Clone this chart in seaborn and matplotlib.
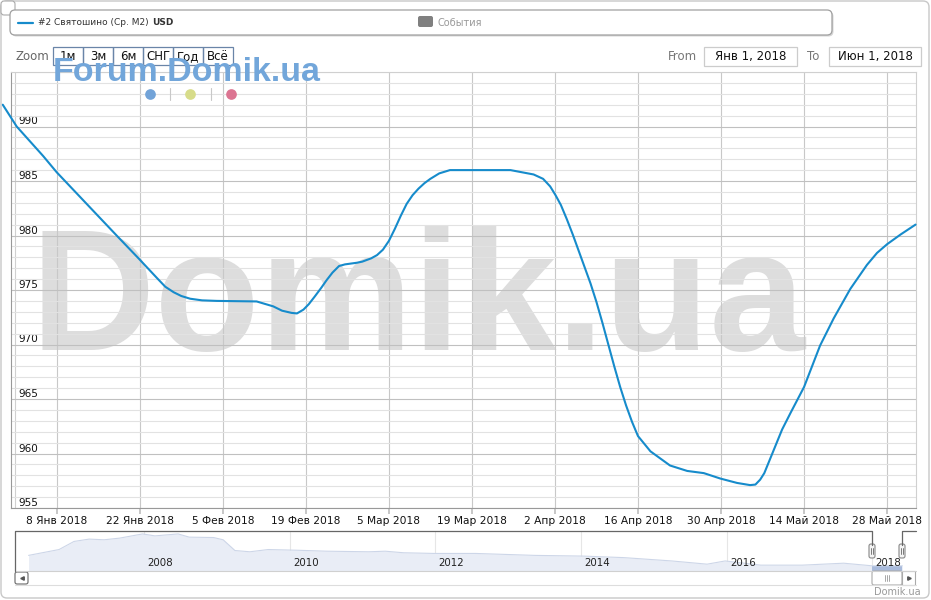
import pandas as pd
import seaborn as sns
import matplotlib.pyplot as plt
from matplotlib.patches import FancyBboxPatch, Rectangle

W, H = 931, 600

# main series: days after 1 Jan 2018 and price per m2, USD
days = [-2.1, 0.25, 4.7, 7.0, 17.1, 20.8, 23.9, 25.3, 26.7, 28.0, 29.5, 31.5,
        34.0, 40.7, 43.5, 45.0, 46.6, 47.5, 48.6, 49.5, 50.5, 51.6, 52.5, 53.5,
        54.6, 55.6, 57.6, 58.5, 60.0, 61.0, 62.0, 63.0, 64.0, 65.0, 66.0, 67.0,
        68.0, 69.0, 70.0, 71.5, 73.3, 83.5, 87.4, 89.0, 90.2, 91.1, 92.0, 93.0,
        94.0, 95.0, 96.0, 97.0, 98.0, 99.0, 100.0, 101.0, 102.0, 103.0, 104.0,
        105.0, 107.1, 110.4, 113.3, 116.1, 118.9, 121.7, 123.9, 124.8, 125.6,
        126.3, 127.2, 128.1, 129.3, 130.7, 133.0, 135.7, 138.0, 140.8, 143.6,
        145.3, 147.0, 149.3, 151.8]
price = [992.0, 990.0, 987.3, 985.8, 980.0, 977.9, 976.1, 975.3, 974.8, 974.45,
         974.2, 974.05, 974.0, 973.95, 973.5, 973.1, 972.9, 972.85, 973.2, 973.7,
         974.4, 975.2, 975.9, 976.6, 977.2, 977.35, 977.5, 977.6, 977.9, 978.2,
         978.7, 979.5, 980.6, 981.8, 982.9, 983.7, 984.3, 984.8, 985.2, 985.7,
         986.0, 986.0, 985.6, 985.2, 984.5, 983.7, 982.8, 981.5, 980.1, 978.6,
         977.1, 975.6, 973.9, 972.0, 970.0, 968.0, 966.1, 964.4, 962.9, 961.6,
         960.2, 958.9, 958.4, 958.2, 957.7, 957.3, 957.1, 957.15, 957.6, 958.2,
         959.4, 960.6, 962.2, 963.7, 966.1, 969.9, 972.4, 975.1, 977.3, 978.4,
         979.2, 980.1, 981.0]

tick_dates = ["2018-01-08", "2018-01-22", "2018-02-05", "2018-02-19", "2018-03-05",
              "2018-03-19", "2018-04-02", "2018-04-16", "2018-04-30", "2018-05-14",
              "2018-05-28"]
tick_labels = ["8 Янв 2018", "22 Янв 2018", "5 Фев 2018", "19 Фев 2018",
               "5 Мар 2018", "19 Мар 2018", "2 Апр 2018", "16 Апр 2018",
               "30 Апр 2018", "14 Май 2018", "28 Май 2018"]

# navigator series (whole history)
nav_dates = ["2006-06-01", "2006-11-01", "2007-01-15", "2007-04-01", "2007-06-15",
             "2007-09-01", "2007-12-25", "2008-02-25", "2008-06-20", "2008-08-15",
             "2008-12-15", "2009-02-01", "2009-04-01", "2009-06-15", "2009-09-15",
             "2010-02-05", "2010-07-05", "2011-02-01", "2011-04-25", "2011-07-25",
             "2011-12-25", "2012-07-20", "2013-05-15", "2014-01-10", "2014-08-05",
             "2015-04-01", "2015-09-25", "2015-12-25", "2016-06-20", "2017-01-15",
             "2017-08-10", "2018-01-01", "2018-06-01"]
nav_price = [1500, 1800, 2215, 2335, 2300, 2385, 2600, 2500, 2600, 2435, 2415,
             2300, 1750, 1685, 1800, 1765, 1715, 1685, 1715, 1635, 1600, 1600,
             1500, 1465, 1385, 1215, 1050, 1215, 1000, 1000, 1100, 965, 965]
nav_years = [2008, 2010, 2012, 2014, 2016, 2018]

zoom_buttons = ["1м", "3м", "6м", "СНГ", "Год", "Всё"]

LINE = "#168bcb"

sns.set_theme(style="white")
plt.rcParams["font.family"] = ["DejaVu Sans"]


def fx(x):
    return x / W


def fy(y):
    return 1 - y / H


fig = plt.figure(figsize=(W / 100, H / 100), dpi=100)

# main chart
df = pd.DataFrame({
    "date": pd.Timestamp("2018-01-01") + pd.to_timedelta(days, unit="D"),
    "price": price,
})
ax = fig.add_axes([fx(11), fy(508), (916 - 11) / W, (508 - 72) / H])
sns.lineplot(data=df, x="date", y="price", ax=ax, color=LINE, linewidth=1.5,
             clip_on=False, zorder=3)
ax.set_xlim(pd.Timestamp("2018-01-01") - pd.Timedelta(hours=17),
            pd.Timestamp("2018-06-01") + pd.Timedelta(hours=21))
ax.set_ylim(955, 995)
ax.set_axisbelow(True)
ax.set_yticks(range(955, 991, 5))
ax.set_yticks(range(955, 996), minor=True)
ax.set_xticks(pd.to_datetime(tick_dates))
ax.set_xticklabels(tick_labels)
ax.grid(which="minor", axis="y", color="#e2e2e2", lw=0.8)
ax.grid(which="major", axis="y", color="#c0c0c0", lw=0.8)
ax.grid(which="major", axis="x", color="#c8c8c8", lw=0.8)
ax.axvline(pd.Timestamp("2018-01-01"), color="#d0d0d0", lw=0.8, zorder=0.5)
ax.tick_params(axis="y", which="both", length=0, pad=-5, labelsize=7.5,
               labelcolor="#111")
for lbl in ax.get_yticklabels():
    lbl.set_ha("left")
    lbl.set_va("bottom")
ax.tick_params(axis="x", which="major", length=4, color="#c0c0c0", pad=2,
               labelsize=7.7, labelcolor="#111", bottom=True)
ax.set_xlabel("")
ax.set_ylabel("")
for side in ["left", "bottom"]:
    ax.spines[side].set_color("#999999")
    ax.spines[side].set_linewidth(0.8)
for side in ["top", "right"]:
    ax.spines[side].set_color("#d0d0d0")
    ax.spines[side].set_linewidth(0.8)

# big watermark behind the grid
ax.text(fx(30), fy(350), "Domik.ua", transform=fig.transFigure, fontsize=124,
        fontweight="bold", family="Liberation Sans", color="#dddddd",
        ha="left", va="baseline", zorder=0.1)

# navigator
nav_df = pd.DataFrame({"date": pd.to_datetime(nav_dates), "price": nav_price})
nav = fig.add_axes([fx(15), fy(571), (916 - 15) / W, 40 / H])
nav.fill_between(nav_df["date"], nav_df["price"], 700, color="#e9edf6", lw=0)
sns.lineplot(data=nav_df, x="date", y="price", ax=nav, color="#cdd6e8",
             linewidth=0.8)
sel = nav_df[nav_df["date"] >= "2018-01-01"]
nav.fill_between(sel["date"], sel["price"], 700, color="#a9bbdc", lw=0)
nav.set_xlim(pd.Timestamp("2006-03-25"), pd.Timestamp("2018-08-08"))
nav.set_ylim(700, 2750)
for yr in nav_years:
    ts = pd.Timestamp(f"{yr}-01-01")
    nav.axvline(ts, color="#e6e6e6", lw=0.8, zorder=0)
    nav.annotate(str(yr), xy=(ts, 0.21), xycoords=("data", "axes fraction"),
                 xytext=(2.5, 0), textcoords="offset points", va="center",
                 fontsize=7.4, color="#222")
nav.set(xticks=[], yticks=[], xlabel="", ylabel="")
for s in nav.spines.values():
    s.set_visible(False)

# overlay in pixel coordinates for the surrounding controls
ov = fig.add_axes([0, 0, 1, 1], zorder=5)
ov.set_xlim(0, W)
ov.set_ylim(H, 0)
ov.axis("off")
ov.patch.set_alpha(0)

ov.add_patch(FancyBboxPatch((1, 1), 928, 597, boxstyle="round,pad=0,rounding_size=6",
                            fc="none", ec="#c8c8c8", lw=1))
ov.add_patch(FancyBboxPatch((1, 1), 14, 14, boxstyle="round,pad=0,rounding_size=3",
                            fc="white", ec="#aaaaaa", lw=0.8))

# legend
ov.add_patch(FancyBboxPatch((11.5, 11.5), 822, 25, boxstyle="round,pad=0,rounding_size=5",
                            fc="#c4c4c4", ec="none", alpha=0.7))
ov.add_patch(FancyBboxPatch((10, 10), 822, 25, boxstyle="round,pad=0,rounding_size=5",
                            fc="white", ec="#a0a0a0", lw=0.9))
ov.plot([18, 33], [22.5, 22.5], color=LINE, lw=1.6)
ov.text(38, 22.5, "#2 Святошино (Ср. M2)", fontsize=6.5, color="#333", va="center")
ov.text(152, 22.5, "USD", fontsize=6.5, color="#333", va="center", fontweight="bold")
ov.add_patch(FancyBboxPatch((418, 16), 15, 11, boxstyle="round,pad=0,rounding_size=2",
                            fc="#808080", ec="none"))
ov.text(438, 22.5, "События", fontsize=7, color="#999", va="center")

# zoom buttons
ov.text(16, 57, "Zoom", fontsize=8.5, color="#666", va="center")
for i, b in enumerate(zoom_buttons):
    ov.add_patch(Rectangle((53 + 30 * i, 47), 30, 18, fc="none", ec="#6a85a8", lw=0.9))
    ov.text(68 + 30 * i, 56.5, b, fontsize=8.5, color="#111", ha="center", va="center")

# date range inputs
ov.text(668, 57, "From", fontsize=8.5, color="#777", va="center")
ov.add_patch(Rectangle((704, 47), 93, 19, fc="white", ec="#cccccc", lw=0.9))
ov.text(750.5, 56.5, "Янв 1, 2018", fontsize=8.5, color="#111", ha="center", va="center")
ov.text(807, 57, "To", fontsize=8.5, color="#777", va="center")
ov.add_patch(Rectangle((829, 47), 92, 19, fc="white", ec="#cccccc", lw=0.9))
ov.text(875, 56.5, "Июн 1, 2018", fontsize=8.5, color="#111", ha="center", va="center")

# forum watermark and dots
ov.text(52.6, 81, "Forum.Domik.ua", fontsize=24.5, fontweight="bold",
        family="Liberation Sans", color="#72a6da", va="baseline", zorder=10)
for x, c in zip([150, 190, 231], ["#72a3d8", "#d7dc8a", "#dc7592"]):
    ov.plot([x], [94], marker="o", markersize=7.7, color=c, mec="none")
for x in [170, 211]:
    ov.plot([x, x], [88, 100], color="#c8c8c8", lw=0.8)

# navigator outline, handles and scrollbar
ov.plot([15, 916], [571, 571], color="#d0d0d0", lw=0.8)
ov.plot([15, 15, 872, 872], [571, 531, 531, 545], color="#666", lw=0.9)
ov.plot([902, 902, 916], [545, 531, 531], color="#666", lw=0.9)
for hx in [869, 899]:
    ov.add_patch(FancyBboxPatch((hx, 544), 6, 14, boxstyle="round,pad=0,rounding_size=2",
                                fc="#f4f4f4", ec="#888", lw=0.8))
    ov.plot([hx + 2.3, hx + 2.3], [548, 554], color="#666", lw=0.6)
    ov.plot([hx + 3.7, hx + 3.7], [548, 554], color="#666", lw=0.6)
ov.plot([15, 916], [585, 585], color="#dddddd", lw=0.8)
ov.add_patch(FancyBboxPatch((15, 572), 13, 12, boxstyle="round,pad=0,rounding_size=2",
                            fc="white", ec="#666", lw=0.8))
ov.plot([21.5], [578], marker="<", markersize=2.5, color="#555")
ov.add_patch(FancyBboxPatch((872, 571), 30, 14, boxstyle="round,pad=0,rounding_size=2",
                            fc="white", ec="#aaa", lw=0.8))
for dx in [-2, 0, 2]:
    ov.plot([887 + dx, 887 + dx], [575, 581], color="#999", lw=0.6)
ov.add_patch(Rectangle((902, 571), 13, 14, fc="white", ec="#aaa", lw=0.8))
ov.plot([908.5], [578], marker=">", markersize=2.5, color="#555")
ov.text(921, 592, "Domik.ua", fontsize=7, color="#999", ha="right", va="center")

fig.savefig("out.png", dpi=100)
